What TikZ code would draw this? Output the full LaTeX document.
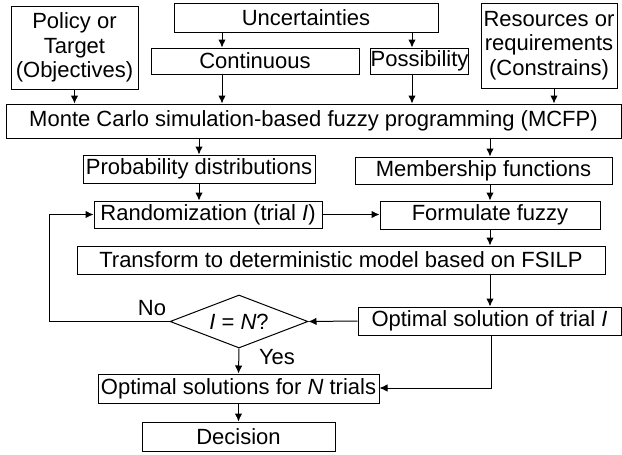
\documentclass[tikz,border=0pt]{standalone}
\usepackage{fontspec}
\setmainfont{Liberation Sans}
\usetikzlibrary{shapes.geometric,arrows.meta}
\begin{document}
\begin{tikzpicture}[x=1pt,y=-1pt,
  box/.style={draw,line width=1pt,inner sep=0pt,align=center,font=\fontsize{22}{24.5}\selectfont},
  arr/.style={line width=1pt,-{Latex[length=8pt,width=7.5pt]}},
  lbl/.style={font=\fontsize{22}{24.5}\selectfont,inner sep=0pt}]
\useasboundingbox (0,0) rectangle (622,455);
\node[box,minimum width=127,minimum height=83] (pol) at (74.5,47.5) {Policy or\\Target\\(Objectives)};
\node[box,minimum width=264,minimum height=29] (unc) at (306,17.5) {Uncertainties};
\node[box,minimum width=208,minimum height=26] (cont) at (255,61) {Continuous};
\node[box,minimum width=97,minimum height=26] (poss) at (419.5,61) {Possibility};
\node[box,minimum width=136,minimum height=85] (res) at (549,45.5) {Resources or\\requirements\\(Constrains)};
\node[box,minimum width=615,minimum height=34] (mcfp) at (313.5,121) {Monte Carlo simulation-based fuzzy programming (MCFP)};
\node[box,minimum width=232,minimum height=28] (prob) at (199,169) {Probability distributions};
\node[box,minimum width=257,minimum height=27] (memb) at (483.5,170.5) {Membership functions};
\node[box,minimum width=228,minimum height=27] (rand) at (208,214.5) {Randomization (trial \textit{I})};
\node[box,minimum width=220,minimum height=28] (form) at (490,215) {Formulate fuzzy};
\node[box,minimum width=528,minimum height=28] (trans) at (341,260) {Transform to deterministic model based on FSILP};
\node[box,minimum width=263,minimum height=28] (opt) at (489.5,321) {Optimal solution of trial \textit{I}};
\node[draw,line width=1pt,diamond,aspect=2.6,minimum width=138,minimum height=53,inner sep=0pt] (dia) at (239,321.5) {};
\node[lbl] (diat) at (239,321.5) {\textit{I} = \textit{N}?};
\node[box,minimum width=281,minimum height=29] (optN) at (238.5,388.5) {Optimal solutions for \textit{N} trials};
\node[box,minimum width=193,minimum height=29] (dec) at (238.5,436.5) {Decision};
\node[lbl] (no) at (152,308) {No};
\node[lbl] (yes) at (277,357) {Yes};
\coordinate (xa) at (222,0);
\coordinate (xb) at (412,0);
\coordinate (xc) at (554,0);
\coordinate (xd) at (490,0);
\coordinate (fb) at (49,0);
\coordinate (ob) at (491,388);
\draw[arr] (pol.south) -- (pol.south |- mcfp.north);
\draw[arr] (unc.south -| xa) -- (cont.north -| xa);
\draw[arr] (cont.south -| xa) -- (mcfp.north -| xa);
\draw[arr] (unc.south -| xb) -- (poss.north -| xb);
\draw[arr] (poss.south -| xb) -- (mcfp.north -| xb);
\draw[arr] (res.south -| xc) -- (mcfp.north -| xc);
\draw[arr] (mcfp.south -| prob.north) -- (prob.north);
\draw[arr] (mcfp.south -| xd) -- (memb.north -| xd);
\draw[arr] (prob.south) -- (prob.south |- rand.north);
\draw[arr] (memb.south -| xd) -- (form.north -| xd);
\draw[arr] (rand.east) -- (rand.east -| form.west);
\draw[arr] (form.south -| xd) -- (trans.north -| xd);
\draw[arr] (trans.south -| xd) -- (opt.north -| xd);
\draw[arr] (opt.west) -- (dia.east);
\draw[arr] (dia.west) -- (dia.west -| fb) -- (rand.west -| fb) -- (rand.west);
\draw[arr] (dia.south) -- (optN.north);
\draw[arr] (opt.south -| ob) -- (ob) -- (optN.east |- ob);
\draw[arr] (optN.south) -- (dec.north);
\end{tikzpicture}
\end{document}
